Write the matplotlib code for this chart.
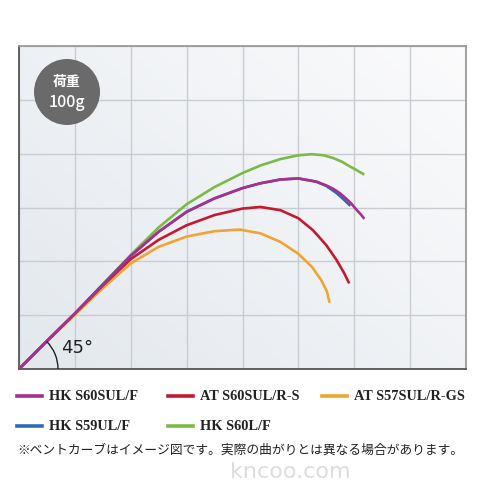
import numpy as np
import matplotlib.pyplot as plt
from matplotlib.patches import Circle, Arc

plt.rcParams['font.family'] = ['DejaVu Sans']

# bend curves (x, y in grid cells)
hk_s60sul_x = [0, 0.5, 1, 1.5, 2, 2.5, 3, 3.5, 4, 4.32, 4.68, 5, 5.32, 5.5, 5.62, 5.75, 5.85, 5.95, 6.03, 6.12, 6.18]
hk_s60sul_y = [0, 0.52, 1.03, 1.57, 2.1, 2.55, 2.92, 3.17, 3.36, 3.45, 3.52, 3.54, 3.48, 3.41, 3.35, 3.26, 3.17, 3.07, 2.97, 2.87, 2.79]

hk_s59ul_x = [0, 0.5, 1, 1.5, 2, 2.5, 3, 3.5, 4, 4.32, 4.68, 5, 5.32, 5.5, 5.68, 5.82, 5.93]
hk_s59ul_y = [0, 0.52, 1.03, 1.57, 2.1, 2.55, 2.92, 3.17, 3.36, 3.45, 3.52, 3.54, 3.48, 3.4, 3.27, 3.14, 3.03]

hk_s60l_x = [0, 0.5, 1, 1.5, 2, 2.5, 3, 3.5, 4, 4.32, 4.68, 5, 5.24, 5.45, 5.62, 5.78, 5.91, 6.05, 6.18]
hk_s60l_y = [0, 0.52, 1.03, 1.57, 2.12, 2.63, 3.06, 3.38, 3.64, 3.78, 3.9, 3.97, 3.99, 3.97, 3.92, 3.85, 3.77, 3.69, 3.61]

at_s60sul_x = [0, 0.5, 1, 1.5, 2, 2.5, 3, 3.5, 4, 4.32, 4.68, 5, 5.26, 5.5, 5.68, 5.82, 5.91]
at_s60sul_y = [0, 0.52, 1.03, 1.55, 2.04, 2.4, 2.67, 2.86, 2.98, 3.01, 2.95, 2.8, 2.58, 2.3, 2.03, 1.78, 1.59]

at_s57sul_x = [0, 0.5, 1, 1.5, 2, 2.5, 3, 3.5, 3.95, 4.32, 4.68, 5, 5.24, 5.41, 5.51, 5.56]
at_s57sul_y = [0, 0.51, 1.01, 1.5, 1.96, 2.27, 2.46, 2.56, 2.59, 2.52, 2.36, 2.14, 1.9, 1.65, 1.44, 1.23]

labels = ['HK S60SUL/F', 'AT S60SUL/R-S', 'AT S57SUL/R-GS', 'HK S59UL/F', 'HK S60L/F']
colors = ['#a8308c', '#c41a30', '#eea532', '#2e6db5', '#7cba48']
note = '※ベントカーブはイメージ図です。実際の曲がりとは異なる場合があります。'

fig = plt.figure(figsize=(4.88, 4.88), dpi=100)
ax = fig.add_axes([19/488, 119/488, 447/488, 323/488])

# soft background gradient
gx, gy = np.meshgrid(np.linspace(0, 1, 200), np.linspace(0, 1, 200))
shade = np.clip(0.55 * (1 - gx) + 0.45 * (1 - gy), 0, 1)
c0 = np.array([0.985, 0.985, 0.99])
c1 = np.array([0.89, 0.91, 0.93])
img = c0 + (c1 - c0) * shade[..., None]
ax.imshow(img, extent=[0, 8, 0, 6], origin='lower', aspect='auto', zorder=0)

ax.set_xlim(0, 8)
ax.set_ylim(0, 6)
ax.set_xticks(range(9))
ax.set_yticks(range(7))
ax.grid(True, color='#c9ccd0', linewidth=1)
ax.tick_params(left=False, bottom=False, labelleft=False, labelbottom=False)
for s in ['top', 'right']:
    ax.spines[s].set_color('#9a9a9a')
    ax.spines[s].set_linewidth(1.3)
for s in ['left', 'bottom']:
    ax.spines[s].set_color('#555555')
    ax.spines[s].set_linewidth(1.3)

lw = 1.9
kw = dict(lw=lw, solid_capstyle='butt', solid_joinstyle='round')
ax.plot(at_s57sul_x, at_s57sul_y, color=colors[2], zorder=3, **kw)
ax.plot(at_s60sul_x, at_s60sul_y, color=colors[1], zorder=4, **kw)
ax.plot(hk_s60l_x, hk_s60l_y, color=colors[4], zorder=3, **kw)
ax.plot(hk_s59ul_x, hk_s59ul_y, color=colors[3], zorder=4, **kw)
ax.plot(hk_s60sul_x, hk_s60sul_y, color=colors[0], zorder=5, **kw)

# 45 degree marker
ax.add_patch(Arc((0, 0), 2 * 39 / 55.9, 2 * 39 / 53.8, theta1=0, theta2=46,
                 color='#222222', lw=1, zorder=6))
ax.text(1.04, 0.39, '45°', fontsize=13, color='#222222', ha='center', va='center', zorder=6)

# load badge
badge = Circle((67 / 488, 396 / 488), 33 / 488, transform=fig.transFigure,
               facecolor='#6a6a6a', edgecolor='none', zorder=10)
fig.patches.append(badge)
fig.text(67 / 488, 1 - 82 / 488, '荷重', fontsize=10, color='white', fontweight='bold',
         family=['Noto Sans CJK JP'], ha='center', va='center', zorder=11)
fig.text(67 / 488, 1 - 102 / 488, '100g', fontsize=11.5, color='white', fontweight='medium',
         family=['Noto Sans CJK JP'], ha='center', va='center', zorder=11)

# legend
rows = [(0, 17, 396), (1, 168, 396), (2, 322, 396), (3, 17, 426), (4, 168, 426)]
for i, x0, y0 in rows:
    fig.add_artist(plt.Line2D([x0 / 488, (x0 + 25) / 488], [1 - y0 / 488, 1 - y0 / 488],
                              color=colors[i], lw=2.6, transform=fig.transFigure))
    fig.text((x0 + 32) / 488, 1 - y0 / 488, labels[i], fontsize=10.4, fontweight='bold',
             family=['Liberation Serif'], color='#222222', va='center', ha='left')

fig.text(17 / 488, 1 - 450 / 488, note, fontsize=9.2, color='#222222',
         family=['Noto Sans CJK JP', 'DejaVu Sans'], va='center', ha='left')
fig.text(290 / 488, 1 - 472 / 488, 'kncoo.com', fontsize=16, color='#dcdcdc',
         va='center', ha='center', zorder=0)

fig.savefig('out.png', dpi=100, facecolor='white')
